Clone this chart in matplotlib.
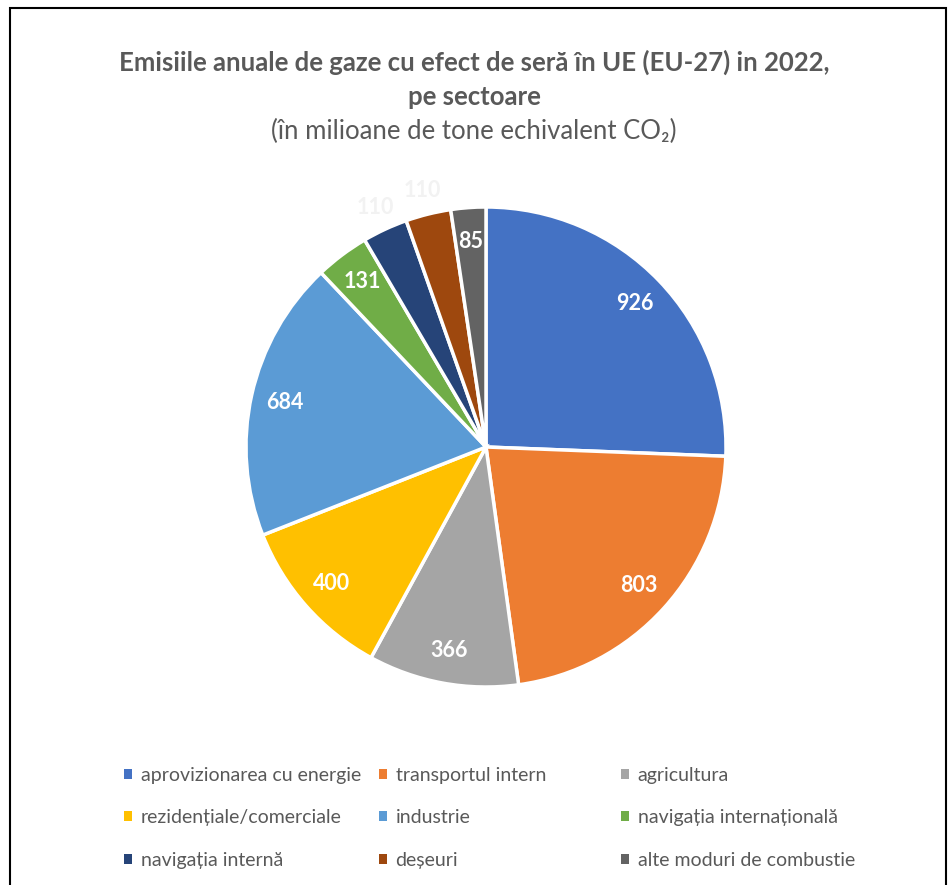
import matplotlib
matplotlib.use("Agg")
import matplotlib.pyplot as plt
from matplotlib.patches import Rectangle
import numpy as np

plt.rcParams['font.family'] = ['Lato', 'DejaVu Sans']

categories = ["aprovizionarea cu energie", "transportul intern", "agricultura",
              "rezidențiale/comerciale", "industrie", "navigația internațională",
              "navigația internă", "deșeuri", "alte moduri de combustie"]
values = [926, 803, 366, 400, 684, 131, 110, 110, 85]
colors = ["#4472C4", "#ED7D31", "#A5A5A5", "#FFC000", "#5B9BD5",
          "#70AD47", "#264478", "#9E480E", "#636363"]
outside = [False, False, False, False, False, False, True, True, False]

W, H = 948, 885
fig = plt.figure(figsize=(W / 100, H / 100), dpi=100)

# border
fig.patches.append(Rectangle((10 / W, -0.05), 936 / W, 1.05 - 8 / H,
                             transform=fig.transFigure, fill=False,
                             edgecolor="#000000", linewidth=1.5))

cx, cy, R = 486, 447, 240
ax = fig.add_axes([(cx - R) / W, (H - cy - R) / H, 2 * R / W, 2 * R / H])
wedges, _ = ax.pie(values, colors=colors, startangle=90, counterclock=False,
                   radius=1.0,
                   wedgeprops=dict(edgecolor="white", linewidth=2.5))
ax.set_xlim(-1, 1)
ax.set_ylim(-1, 1)
ax.set_aspect("equal")
ax.axis("off")

total = sum(values)
cum = 0
for v, out in zip(values, outside):
    mid = (cum + v / 2) / total
    ang = np.deg2rad(90 - 360 * mid)
    r = 1.10 if out else 0.86
    ax.text(r * np.cos(ang), r * np.sin(ang), str(v),
            ha="center", va="center", fontsize=15.5, fontweight="bold",
            color="#F2F2F2" if out else "white")
    cum += v

tc = "#595959"
fig.text(474 / W, 1 - 62 / H, "Emisiile anuale de gaze cu efect de seră în UE (EU-27) in 2022,",
         ha="center", va="center", fontsize=18.5, fontweight="bold", color=tc)
fig.text(474 / W, 1 - 97 / H, "pe sectoare",
         ha="center", va="center", fontsize=18.5, fontweight="bold", color=tc)
fig.text(474 / W, 1 - 131 / H, "(în milioane de tone echivalent CO₂)",
         ha="center", va="center", fontsize=18.5, color=tc)

# legend: three columns with equal spacing
col_x = [124, 379, 621]
for c in range(3):
    idx = [c, c + 3, c + 6]
    leg = fig.legend([wedges[i] for i in idx], [categories[i] for i in idx],
                     loc="upper left", bbox_to_anchor=(col_x[c] / W, 1 - 767 / H),
                     frameon=False, ncol=1, fontsize=14,
                     handlelength=0.4, handleheight=0.4, handletextpad=0.45,
                     labelspacing=1.3, borderaxespad=0, borderpad=0,
                     labelcolor=tc)
    for h in leg.legend_handles:
        h.set_edgecolor("none")

fig.savefig("out.png", dpi=100, facecolor="white")
